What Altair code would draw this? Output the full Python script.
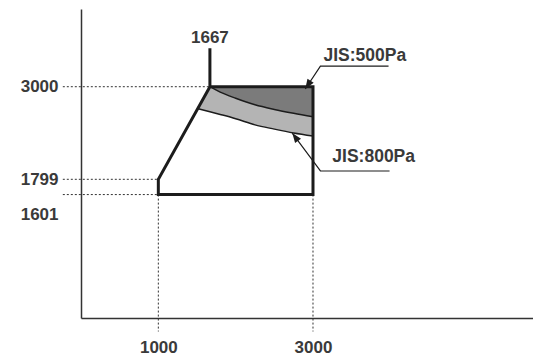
import altair as alt
import pandas as pd

# ---------------- data ----------------
x_ticks = [1000, 3000]
y_ticks = [3000, 1799, 1601]
stem_label = "1667"

# operating-range outline (flow, pressure), drawn in order
outline_x = [1667, 1667, 3000, 3000, 1000, 1000, 1667]
outline_y = [3500, 3000, 3000, 1601, 1601, 1799, 3000]

# JIS:500Pa limit curve
c500_x = [1667, 1800, 2000, 2250, 2500, 2750, 3000]
c500_y = [3000, 2930, 2850, 2765, 2705, 2655, 2610]
c500_top = [3000, 3000, 3000, 3000, 3000, 3000, 3000]

# JIS:800Pa limit curve and the outer edge above it
c800_x = [1510, 1667, 1800, 2000, 2250, 2500, 2750, 3000]
c800_y = [2715, 2675, 2640, 2585, 2505, 2450, 2400, 2360]
c800_top = [2715, 3000, 3000, 3000, 3000, 3000, 3000, 3000]

# dotted guides
hguide_y = [3000, 1799, 1601]
hguide_from = [-235, -235, -235]
hguide_to = [1667, 1000, 1000]
vguide_x = [1000, 3000]
vguide_from = [1601, 1601]
vguide_to = [-175, -175]

# callouts
call_names = ["JIS:500Pa", "JIS:800Pa"]
call_line_end = [3977, 3990]
call_line_start = [3096, 3096]
call_line_y = [3268, 1907]
call_tip_x = [2900, 2732]
call_tip_y = [2970, 2399]
call_text_x = [3135, 3250]
call_text_y = [3333, 2023]

# ---------------- style ----------------
FONT = "Liberation Sans"
TXT = "#3a3a3a"
INK = "#1c1c1c"
DARK = "#7b7b7b"
LIGHT = "#b4b4b4"

x_scale = alt.Scale(domain=[0, 5845], nice=False, zero=False)
y_scale = alt.Scale(domain=[0, 4008], nice=False, zero=False)

x_axis = alt.Axis(values=x_ticks, title=None, grid=False, ticks=False, tickSize=0,
                  domainColor="#333333", domainWidth=1.5, labelFont=FONT,
                  labelFontSize=17, labelFontWeight="bold", labelColor=TXT,
                  labelPadding=21, labelAngle=0, format="d")
y_axis = alt.Axis(values=y_ticks, title=None, grid=False, ticks=False, tickSize=0,
                  domainColor="#333333", domainWidth=1.5, labelFont=FONT,
                  labelFontSize=17, labelFontWeight="bold", labelColor=TXT,
                  labelPadding=23, format="d",
                  labelOffset={"condition": {"test": "datum.value == 1601", "value": 20}, "value": 0})


def X(f):
    return alt.X(f"{f}:Q", scale=x_scale, axis=x_axis)


def Y(f):
    return alt.Y(f"{f}:Q", scale=y_scale, axis=y_axis)


# ---------------- layers ----------------
hg = pd.DataFrame({"y": hguide_y, "x0": hguide_from, "x1": hguide_to})
hguides = alt.Chart(hg).mark_rule(strokeDash=[2, 2], strokeWidth=1, color="#333333").encode(
    x=X("x0"), x2="x1", y=Y("y"))

vg = pd.DataFrame({"x": vguide_x, "y0": vguide_from, "y1": vguide_to})
vguides = alt.Chart(vg).mark_rule(strokeDash=[2, 2], strokeWidth=1, color="#333333").encode(
    x=X("x"), y=Y("y0"), y2="y1")

band = alt.Chart(pd.DataFrame({"x": c800_x, "lo": c800_y, "hi": c800_top})).mark_area(
    color=LIGHT, opacity=1).encode(x=X("x"), y=Y("lo"), y2="hi")

dark = alt.Chart(pd.DataFrame({"x": c500_x, "lo": c500_y, "hi": c500_top})).mark_area(
    color=DARK, opacity=1).encode(x=X("x"), y=Y("lo"), y2="hi")

curves_df = pd.concat([
    pd.DataFrame({"x": c500_x, "y": c500_y, "s": "500"}),
    pd.DataFrame({"x": c800_x, "y": c800_y, "s": "800"}),
])
curves = alt.Chart(curves_df).mark_line(color=INK, strokeWidth=1.5, interpolate="monotone").encode(
    x=X("x"), y=Y("y"), detail="s:N")

out_df = pd.DataFrame({"x": outline_x, "y": outline_y, "i": list(range(len(outline_x)))})
outline = alt.Chart(out_df).mark_line(color=INK, strokeWidth=3, strokeJoin="miter",
                                      strokeCap="butt").encode(
    x=X("x"), y=Y("y"), order="i:Q")

lead_rows = []
for k, n in enumerate(call_names):
    lead_rows.append({"n": n, "i": 0, "x": call_line_end[k], "y": call_line_y[k]})
    lead_rows.append({"n": n, "i": 1, "x": call_line_start[k], "y": call_line_y[k]})
    lead_rows.append({"n": n, "i": 2, "x": call_tip_x[k], "y": call_tip_y[k]})
leaders = alt.Chart(pd.DataFrame(lead_rows)).mark_line(color=INK, strokeWidth=1.2).encode(
    x=X("x"), y=Y("y"), detail="n:N", order="i:Q")

ARROW = "M0,0 L-0.38,1 L0.38,1 Z"
heads = []
for k, ang in enumerate([213, 323.6]):
    d = pd.DataFrame({"x": [call_tip_x[k]], "y": [call_tip_y[k]]})
    heads.append(alt.Chart(d).mark_point(shape=ARROW, filled=True, size=380, color=INK,
                                         opacity=1, angle=ang, strokeWidth=0).encode(
        x=X("x"), y=Y("y")))

call_text = alt.Chart(pd.DataFrame({"t": call_names, "x": call_text_x, "y": call_text_y})).mark_text(
    font=FONT, fontSize=17.5, fontWeight="bold", color=TXT, align="left", baseline="alphabetic").encode(
    x=X("x"), y=Y("y"), text="t:N")

stem_text = alt.Chart(pd.DataFrame({"t": [stem_label], "x": [outline_x[0]], "y": [outline_y[0]]})).mark_text(
    font=FONT, fontSize=17, fontWeight="bold", color=TXT, align="center", baseline="alphabetic", dy=-5).encode(
    x=X("x"), y=Y("y"), text="t:N")

chart = alt.layer(
    hguides, vguides, band, dark, curves, outline, leaders, *heads, call_text, stem_text
).properties(
    width=452, height=309,
    autosize=alt.AutoSizeParams(type="none"),
    padding={"left": 73, "top": 1, "right": 0, "bottom": 38},
    background="white",
).configure_view(stroke=None)

chart.save("out.html", embed_options={"renderer": "svg", "actions": False})
